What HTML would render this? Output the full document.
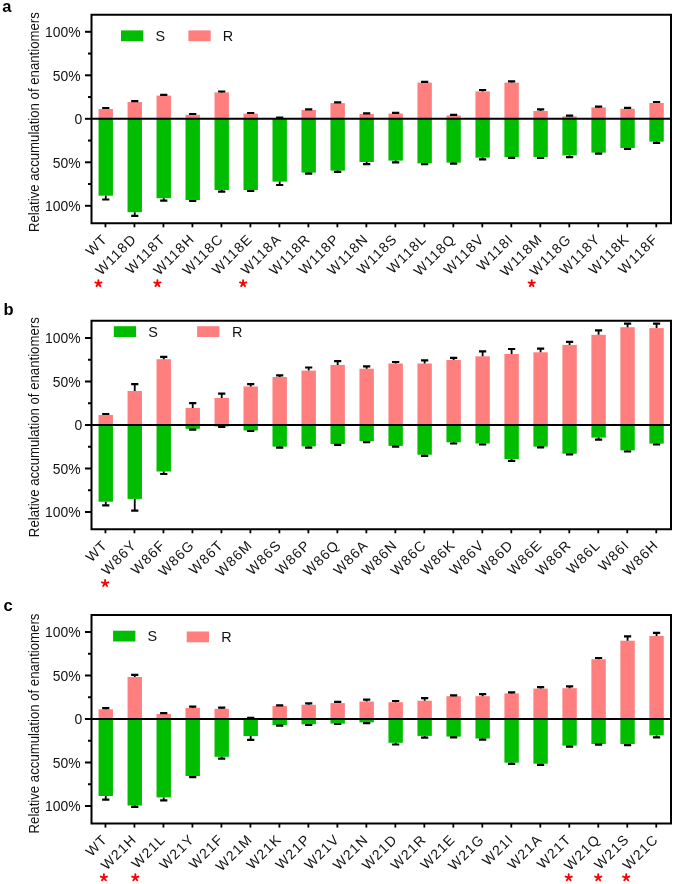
<!DOCTYPE html>
<html><head><meta charset="utf-8"><style>
html,body{margin:0;padding:0;background:#fff;}
svg{display:block;will-change:transform;font-family:"Liberation Sans", sans-serif;}
</style></head><body>
<svg width="675" height="884" viewBox="0 0 675 884">
<rect width="675" height="884" fill="#fff"/>
<text x="2.2" y="12" font-size="16.5" font-weight="bold">a</text>
<rect x="98.55" y="109" width="14.4" height="9.8" fill="#ff7f7f"/>
<rect x="98.55" y="118.8" width="14.4" height="76.9" fill="#00bd00"/>
<rect x="127.54" y="102" width="14.4" height="16.8" fill="#ff7f7f"/>
<rect x="127.54" y="118.8" width="14.4" height="93.4" fill="#00bd00"/>
<rect x="156.53" y="95.6" width="14.4" height="23.2" fill="#ff7f7f"/>
<rect x="156.53" y="118.8" width="14.4" height="79.4" fill="#00bd00"/>
<rect x="185.52" y="114.8" width="14.4" height="4" fill="#ff7f7f"/>
<rect x="185.52" y="118.8" width="14.4" height="81.2" fill="#00bd00"/>
<rect x="214.51" y="92.4" width="14.4" height="26.4" fill="#ff7f7f"/>
<rect x="214.51" y="118.8" width="14.4" height="71.2" fill="#00bd00"/>
<rect x="243.5" y="113.6" width="14.4" height="5.2" fill="#ff7f7f"/>
<rect x="243.5" y="118.8" width="14.4" height="71.2" fill="#00bd00"/>
<rect x="272.49" y="118" width="14.4" height="0.8" fill="#ff7f7f"/>
<rect x="272.49" y="118.8" width="14.4" height="62.8" fill="#00bd00"/>
<rect x="301.48" y="110" width="14.4" height="8.8" fill="#ff7f7f"/>
<rect x="301.48" y="118.8" width="14.4" height="53.8" fill="#00bd00"/>
<rect x="330.47" y="103.1" width="14.4" height="15.7" fill="#ff7f7f"/>
<rect x="330.47" y="118.8" width="14.4" height="51.8" fill="#00bd00"/>
<rect x="359.46" y="114" width="14.4" height="4.8" fill="#ff7f7f"/>
<rect x="359.46" y="118.8" width="14.4" height="43.2" fill="#00bd00"/>
<rect x="388.45" y="113.6" width="14.4" height="5.2" fill="#ff7f7f"/>
<rect x="388.45" y="118.8" width="14.4" height="41.8" fill="#00bd00"/>
<rect x="417.44" y="82.6" width="14.4" height="36.2" fill="#ff7f7f"/>
<rect x="417.44" y="118.8" width="14.4" height="44.6" fill="#00bd00"/>
<rect x="446.43" y="115.5" width="14.4" height="3.3" fill="#ff7f7f"/>
<rect x="446.43" y="118.8" width="14.4" height="43.8" fill="#00bd00"/>
<rect x="475.42" y="91.4" width="14.4" height="27.4" fill="#ff7f7f"/>
<rect x="475.42" y="118.8" width="14.4" height="38.8" fill="#00bd00"/>
<rect x="504.41" y="82.6" width="14.4" height="36.2" fill="#ff7f7f"/>
<rect x="504.41" y="118.8" width="14.4" height="38.2" fill="#00bd00"/>
<rect x="533.4" y="111" width="14.4" height="7.8" fill="#ff7f7f"/>
<rect x="533.4" y="118.8" width="14.4" height="38.2" fill="#00bd00"/>
<rect x="562.39" y="116.4" width="14.4" height="2.4" fill="#ff7f7f"/>
<rect x="562.39" y="118.8" width="14.4" height="36.6" fill="#00bd00"/>
<rect x="591.38" y="107.4" width="14.4" height="11.4" fill="#ff7f7f"/>
<rect x="591.38" y="118.8" width="14.4" height="33.8" fill="#00bd00"/>
<rect x="620.37" y="108.8" width="14.4" height="10" fill="#ff7f7f"/>
<rect x="620.37" y="118.8" width="14.4" height="29.2" fill="#00bd00"/>
<rect x="649.36" y="103" width="14.4" height="15.8" fill="#ff7f7f"/>
<rect x="649.36" y="118.8" width="14.4" height="22.8" fill="#00bd00"/>
<path d="M105.75 109V108M105.75 195.7V199.5" stroke="#000" fill="none" stroke-width="1.8" />
<path d="M102.15 108H109.35M102.15 199.5H109.35" stroke="#000" stroke-width="2.2" />
<path d="M134.74 102V101.2M134.74 212.2V215.8" stroke="#000" fill="none" stroke-width="1.8" />
<path d="M131.14 101.2H138.34M131.14 215.8H138.34" stroke="#000" stroke-width="2.2" />
<path d="M163.73 95.6V94.8M163.73 198.2V200.6" stroke="#000" fill="none" stroke-width="1.8" />
<path d="M160.13 94.8H167.33M160.13 200.6H167.33" stroke="#000" stroke-width="2.2" />
<path d="M192.72 114.8V114M192.72 200V201" stroke="#000" fill="none" stroke-width="1.8" />
<path d="M189.12 114H196.32M189.12 201H196.32" stroke="#000" stroke-width="2.2" />
<path d="M221.71 92.4V91.5M221.71 190V191.6" stroke="#000" fill="none" stroke-width="1.8" />
<path d="M218.11 91.5H225.31M218.11 191.6H225.31" stroke="#000" stroke-width="2.2" />
<path d="M250.7 113.6V113M250.7 190V191" stroke="#000" fill="none" stroke-width="1.8" />
<path d="M247.1 113H254.3M247.1 191H254.3" stroke="#000" stroke-width="2.2" />
<path d="M279.69 118V117.6M279.69 181.6V185" stroke="#000" fill="none" stroke-width="1.8" />
<path d="M276.09 117.6H283.29M276.09 185H283.29" stroke="#000" stroke-width="2.2" />
<path d="M308.68 110V109.4M308.68 172.6V173.6" stroke="#000" fill="none" stroke-width="1.8" />
<path d="M305.08 109.4H312.28M305.08 173.6H312.28" stroke="#000" stroke-width="2.2" />
<path d="M337.67 103.1V102.4M337.67 170.6V171.8" stroke="#000" fill="none" stroke-width="1.8" />
<path d="M334.07 102.4H341.27M334.07 171.8H341.27" stroke="#000" stroke-width="2.2" />
<path d="M366.66 114V113.4M366.66 162V164.2" stroke="#000" fill="none" stroke-width="1.8" />
<path d="M363.06 113.4H370.26M363.06 164.2H370.26" stroke="#000" stroke-width="2.2" />
<path d="M395.65 113.6V112.8M395.65 160.6V162.4" stroke="#000" fill="none" stroke-width="1.8" />
<path d="M392.05 112.8H399.25M392.05 162.4H399.25" stroke="#000" stroke-width="2.2" />
<path d="M424.64 82.6V81.8M424.64 163.4V164.2" stroke="#000" fill="none" stroke-width="1.8" />
<path d="M421.04 81.8H428.24M421.04 164.2H428.24" stroke="#000" stroke-width="2.2" />
<path d="M453.63 115.5V114.8M453.63 162.6V163.6" stroke="#000" fill="none" stroke-width="1.8" />
<path d="M450.03 114.8H457.23M450.03 163.6H457.23" stroke="#000" stroke-width="2.2" />
<path d="M482.62 91.4V90M482.62 157.6V159.4" stroke="#000" fill="none" stroke-width="1.8" />
<path d="M479.02 90H486.22M479.02 159.4H486.22" stroke="#000" stroke-width="2.2" />
<path d="M511.61 82.6V81.4M511.61 157V157.8" stroke="#000" fill="none" stroke-width="1.8" />
<path d="M508.01 81.4H515.21M508.01 157.8H515.21" stroke="#000" stroke-width="2.2" />
<path d="M540.6 111V109.4M540.6 157V158" stroke="#000" fill="none" stroke-width="1.8" />
<path d="M537 109.4H544.2M537 158H544.2" stroke="#000" stroke-width="2.2" />
<path d="M569.59 116.4V115.7M569.59 155.4V157.2" stroke="#000" fill="none" stroke-width="1.8" />
<path d="M565.99 115.7H573.19M565.99 157.2H573.19" stroke="#000" stroke-width="2.2" />
<path d="M598.58 107.4V106.6M598.58 152.6V153.6" stroke="#000" fill="none" stroke-width="1.8" />
<path d="M594.98 106.6H602.18M594.98 153.6H602.18" stroke="#000" stroke-width="2.2" />
<path d="M627.57 108.8V107.8M627.57 148V149" stroke="#000" fill="none" stroke-width="1.8" />
<path d="M623.97 107.8H631.17M623.97 149H631.17" stroke="#000" stroke-width="2.2" />
<path d="M656.56 103V102M656.56 141.6V142.9" stroke="#000" fill="none" stroke-width="1.8" />
<path d="M652.96 102H660.16M652.96 142.9H660.16" stroke="#000" stroke-width="2.2" />
<path d="M91.5 118.8H671" stroke="#000" stroke-width="2"/>
<path d="M91.5 14.8H671V223.3H91.5Z" stroke="#000" stroke-width="2" fill="none"/>
<path d="M85 31.8H91.5" stroke="#000" stroke-width="2"/>
<path d="M88 53.55H91.5" stroke="#000" stroke-width="2"/>
<path d="M85 75.3H91.5" stroke="#000" stroke-width="2"/>
<path d="M88 97.05H91.5" stroke="#000" stroke-width="2"/>
<path d="M85 118.8H91.5" stroke="#000" stroke-width="2"/>
<path d="M88 140.55H91.5" stroke="#000" stroke-width="2"/>
<path d="M85 162.3H91.5" stroke="#000" stroke-width="2"/>
<path d="M88 184.05H91.5" stroke="#000" stroke-width="2"/>
<path d="M85 205.8H91.5" stroke="#000" stroke-width="2"/>
<text x="80.5" y="37.2" font-size="13.9" text-anchor="end" fill="#111">100%</text>
<text x="80.5" y="80.7" font-size="13.9" text-anchor="end" fill="#111">50%</text>
<text x="82.3" y="124.2" font-size="13.9" text-anchor="end" fill="#111">0</text>
<text x="80.5" y="167.7" font-size="13.9" text-anchor="end" fill="#111">50%</text>
<text x="80.5" y="211.2" font-size="13.9" text-anchor="end" fill="#111">100%</text>
<path d="M105.45 223.3V227.3" stroke="#000" stroke-width="1.8"/>
<path d="M134.44 223.3V227.3" stroke="#000" stroke-width="1.8"/>
<path d="M163.43 223.3V227.3" stroke="#000" stroke-width="1.8"/>
<path d="M192.42 223.3V227.3" stroke="#000" stroke-width="1.8"/>
<path d="M221.41 223.3V227.3" stroke="#000" stroke-width="1.8"/>
<path d="M250.4 223.3V227.3" stroke="#000" stroke-width="1.8"/>
<path d="M279.39 223.3V227.3" stroke="#000" stroke-width="1.8"/>
<path d="M308.38 223.3V227.3" stroke="#000" stroke-width="1.8"/>
<path d="M337.37 223.3V227.3" stroke="#000" stroke-width="1.8"/>
<path d="M366.36 223.3V227.3" stroke="#000" stroke-width="1.8"/>
<path d="M395.35 223.3V227.3" stroke="#000" stroke-width="1.8"/>
<path d="M424.34 223.3V227.3" stroke="#000" stroke-width="1.8"/>
<path d="M453.33 223.3V227.3" stroke="#000" stroke-width="1.8"/>
<path d="M482.32 223.3V227.3" stroke="#000" stroke-width="1.8"/>
<path d="M511.31 223.3V227.3" stroke="#000" stroke-width="1.8"/>
<path d="M540.3 223.3V227.3" stroke="#000" stroke-width="1.8"/>
<path d="M569.29 223.3V227.3" stroke="#000" stroke-width="1.8"/>
<path d="M598.28 223.3V227.3" stroke="#000" stroke-width="1.8"/>
<path d="M627.27 223.3V227.3" stroke="#000" stroke-width="1.8"/>
<path d="M656.26 223.3V227.3" stroke="#000" stroke-width="1.8"/>
<text transform="translate(108.35,239.9) rotate(-45)" font-size="14" letter-spacing="1.1" text-anchor="end" fill="#111">WT</text>
<text transform="translate(137.34,239.9) rotate(-45)" font-size="14" letter-spacing="1.1" text-anchor="end" fill="#111">W118D</text>
<text transform="translate(166.33,239.9) rotate(-45)" font-size="14" letter-spacing="1.1" text-anchor="end" fill="#111">W118T</text>
<text transform="translate(195.32,239.9) rotate(-45)" font-size="14" letter-spacing="1.1" text-anchor="end" fill="#111">W118H</text>
<text transform="translate(224.31,239.9) rotate(-45)" font-size="14" letter-spacing="1.1" text-anchor="end" fill="#111">W118C</text>
<text transform="translate(253.3,239.9) rotate(-45)" font-size="14" letter-spacing="1.1" text-anchor="end" fill="#111">W118E</text>
<text transform="translate(282.29,239.9) rotate(-45)" font-size="14" letter-spacing="1.1" text-anchor="end" fill="#111">W118A</text>
<text transform="translate(311.28,239.9) rotate(-45)" font-size="14" letter-spacing="1.1" text-anchor="end" fill="#111">W118R</text>
<text transform="translate(340.27,239.9) rotate(-45)" font-size="14" letter-spacing="1.1" text-anchor="end" fill="#111">W118P</text>
<text transform="translate(369.26,239.9) rotate(-45)" font-size="14" letter-spacing="1.1" text-anchor="end" fill="#111">W118N</text>
<text transform="translate(398.25,239.9) rotate(-45)" font-size="14" letter-spacing="1.1" text-anchor="end" fill="#111">W118S</text>
<text transform="translate(427.24,239.9) rotate(-45)" font-size="14" letter-spacing="1.1" text-anchor="end" fill="#111">W118L</text>
<text transform="translate(456.23,239.9) rotate(-45)" font-size="14" letter-spacing="1.1" text-anchor="end" fill="#111">W118Q</text>
<text transform="translate(485.22,239.9) rotate(-45)" font-size="14" letter-spacing="1.1" text-anchor="end" fill="#111">W118V</text>
<text transform="translate(514.21,239.9) rotate(-45)" font-size="14" letter-spacing="1.1" text-anchor="end" fill="#111">W118I</text>
<text transform="translate(543.2,239.9) rotate(-45)" font-size="14" letter-spacing="1.1" text-anchor="end" fill="#111">W118M</text>
<text transform="translate(572.19,239.9) rotate(-45)" font-size="14" letter-spacing="1.1" text-anchor="end" fill="#111">W118G</text>
<text transform="translate(601.18,239.9) rotate(-45)" font-size="14" letter-spacing="1.1" text-anchor="end" fill="#111">W118Y</text>
<text transform="translate(630.17,239.9) rotate(-45)" font-size="14" letter-spacing="1.1" text-anchor="end" fill="#111">W118K</text>
<text transform="translate(659.16,239.9) rotate(-45)" font-size="14" letter-spacing="1.1" text-anchor="end" fill="#111">W118F</text>
<path d="M98.4 283.4L98.4 280.1M98.4 283.4L101.54 282.38M98.4 283.4L100.34 286.07M98.4 283.4L96.46 286.07M98.4 283.4L95.26 282.38" stroke="#ff0000" stroke-width="1.9" stroke-linecap="round" fill="none"/>
<path d="M157.4 283.4L157.4 280.1M157.4 283.4L160.54 282.38M157.4 283.4L159.34 286.07M157.4 283.4L155.46 286.07M157.4 283.4L154.26 282.38" stroke="#ff0000" stroke-width="1.9" stroke-linecap="round" fill="none"/>
<path d="M243.1 283.4L243.1 280.1M243.1 283.4L246.24 282.38M243.1 283.4L245.04 286.07M243.1 283.4L241.16 286.07M243.1 283.4L239.96 282.38" stroke="#ff0000" stroke-width="1.9" stroke-linecap="round" fill="none"/>
<path d="M531.7 283.4L531.7 280.1M531.7 283.4L534.84 282.38M531.7 283.4L533.64 286.07M531.7 283.4L529.76 286.07M531.7 283.4L528.56 282.38" stroke="#ff0000" stroke-width="1.9" stroke-linecap="round" fill="none"/>
<rect x="121" y="30.4" width="22.3" height="10.8" fill="#00bd00"/>
<rect x="188.4" y="30.4" width="22.3" height="10.8" fill="#ff7f7f"/>
<text x="155.4" y="41.4" font-size="14.4" fill="#111">S</text>
<text x="222.8" y="41.4" font-size="14.4" fill="#111">R</text>
<text transform="translate(38.8,122.1) rotate(-90) scale(0.852,1)" font-size="15.5" text-anchor="middle" fill="#111">Relative accumulation of enantiomers</text>
<text x="3.4" y="314.5" font-size="16.5" font-weight="bold">b</text>
<rect x="98.55" y="415" width="14.4" height="10" fill="#ff7f7f"/>
<rect x="98.55" y="425" width="14.4" height="76.7" fill="#00bd00"/>
<rect x="127.54" y="391" width="14.4" height="34" fill="#ff7f7f"/>
<rect x="127.54" y="425" width="14.4" height="73.9" fill="#00bd00"/>
<rect x="156.53" y="359.2" width="14.4" height="65.8" fill="#ff7f7f"/>
<rect x="156.53" y="425" width="14.4" height="46.5" fill="#00bd00"/>
<rect x="185.52" y="407.9" width="14.4" height="17.1" fill="#ff7f7f"/>
<rect x="185.52" y="425" width="14.4" height="3.8" fill="#00bd00"/>
<rect x="214.51" y="397.9" width="14.4" height="27.1" fill="#ff7f7f"/>
<rect x="214.51" y="425" width="14.4" height="1.4" fill="#00bd00"/>
<rect x="243.5" y="386.5" width="14.4" height="38.5" fill="#ff7f7f"/>
<rect x="243.5" y="425" width="14.4" height="5.5" fill="#00bd00"/>
<rect x="272.49" y="377" width="14.4" height="48" fill="#ff7f7f"/>
<rect x="272.49" y="425" width="14.4" height="21.6" fill="#00bd00"/>
<rect x="301.48" y="370.6" width="14.4" height="54.4" fill="#ff7f7f"/>
<rect x="301.48" y="425" width="14.4" height="21.4" fill="#00bd00"/>
<rect x="330.47" y="364.9" width="14.4" height="60.1" fill="#ff7f7f"/>
<rect x="330.47" y="425" width="14.4" height="19" fill="#00bd00"/>
<rect x="359.46" y="368.7" width="14.4" height="56.3" fill="#ff7f7f"/>
<rect x="359.46" y="425" width="14.4" height="16.1" fill="#00bd00"/>
<rect x="388.45" y="363.5" width="14.4" height="61.5" fill="#ff7f7f"/>
<rect x="388.45" y="425" width="14.4" height="20.9" fill="#00bd00"/>
<rect x="417.44" y="363.5" width="14.4" height="61.5" fill="#ff7f7f"/>
<rect x="417.44" y="425" width="14.4" height="29.7" fill="#00bd00"/>
<rect x="446.43" y="359.9" width="14.4" height="65.1" fill="#ff7f7f"/>
<rect x="446.43" y="425" width="14.4" height="17.3" fill="#00bd00"/>
<rect x="475.42" y="356.3" width="14.4" height="68.7" fill="#ff7f7f"/>
<rect x="475.42" y="425" width="14.4" height="18.5" fill="#00bd00"/>
<rect x="504.41" y="354" width="14.4" height="71" fill="#ff7f7f"/>
<rect x="504.41" y="425" width="14.4" height="34" fill="#00bd00"/>
<rect x="533.4" y="352.3" width="14.4" height="72.7" fill="#ff7f7f"/>
<rect x="533.4" y="425" width="14.4" height="21.6" fill="#00bd00"/>
<rect x="562.39" y="344.9" width="14.4" height="80.1" fill="#ff7f7f"/>
<rect x="562.39" y="425" width="14.4" height="28.7" fill="#00bd00"/>
<rect x="591.38" y="334.8" width="14.4" height="90.2" fill="#ff7f7f"/>
<rect x="591.38" y="425" width="14.4" height="12.6" fill="#00bd00"/>
<rect x="620.37" y="327.2" width="14.4" height="97.8" fill="#ff7f7f"/>
<rect x="620.37" y="425" width="14.4" height="25.4" fill="#00bd00"/>
<rect x="649.36" y="328.1" width="14.4" height="96.9" fill="#ff7f7f"/>
<rect x="649.36" y="425" width="14.4" height="18.6" fill="#00bd00"/>
<path d="M105.75 415V414M105.75 501.7V505.3" stroke="#000" fill="none" stroke-width="1.8" />
<path d="M102.15 414H109.35M102.15 505.3H109.35" stroke="#000" stroke-width="2.2" />
<path d="M134.74 391V384.1M134.74 498.9V510.7" stroke="#000" fill="none" stroke-width="1.8" />
<path d="M131.14 384.1H138.34M131.14 510.7H138.34" stroke="#000" stroke-width="2.2" />
<path d="M163.73 359.2V356.8M163.73 471.5V474" stroke="#000" fill="none" stroke-width="1.8" />
<path d="M160.13 356.8H167.33M160.13 474H167.33" stroke="#000" stroke-width="2.2" />
<path d="M192.72 407.9V403.1M192.72 428.8V429.7" stroke="#000" fill="none" stroke-width="1.8" />
<path d="M189.12 403.1H196.32M189.12 429.7H196.32" stroke="#000" stroke-width="2.2" />
<path d="M221.71 397.9V393.6M221.71 426.4V426.9" stroke="#000" fill="none" stroke-width="1.8" />
<path d="M218.11 393.6H225.31M218.11 426.9H225.31" stroke="#000" stroke-width="2.2" />
<path d="M250.7 386.5V384.1M250.7 430.5V431" stroke="#000" fill="none" stroke-width="1.8" />
<path d="M247.1 384.1H254.3M247.1 431H254.3" stroke="#000" stroke-width="2.2" />
<path d="M279.69 377V375.3M279.69 446.6V447.6" stroke="#000" fill="none" stroke-width="1.8" />
<path d="M276.09 375.3H283.29M276.09 447.6H283.29" stroke="#000" stroke-width="2.2" />
<path d="M308.68 370.6V367.5M308.68 446.4V447.6" stroke="#000" fill="none" stroke-width="1.8" />
<path d="M305.08 367.5H312.28M305.08 447.6H312.28" stroke="#000" stroke-width="2.2" />
<path d="M337.67 364.9V361.1M337.67 444V444.9" stroke="#000" fill="none" stroke-width="1.8" />
<path d="M334.07 361.1H341.27M334.07 444.9H341.27" stroke="#000" stroke-width="2.2" />
<path d="M366.66 368.7V366.3M366.66 441.1V442.1" stroke="#000" fill="none" stroke-width="1.8" />
<path d="M363.06 366.3H370.26M363.06 442.1H370.26" stroke="#000" stroke-width="2.2" />
<path d="M395.65 363.5V362M395.65 445.9V446.6" stroke="#000" fill="none" stroke-width="1.8" />
<path d="M392.05 362H399.25M392.05 446.6H399.25" stroke="#000" stroke-width="2.2" />
<path d="M424.64 363.5V360.4M424.64 454.7V455.9" stroke="#000" fill="none" stroke-width="1.8" />
<path d="M421.04 360.4H428.24M421.04 455.9H428.24" stroke="#000" stroke-width="2.2" />
<path d="M453.63 359.9V357.8M453.63 442.3V443.5" stroke="#000" fill="none" stroke-width="1.8" />
<path d="M450.03 357.8H457.23M450.03 443.5H457.23" stroke="#000" stroke-width="2.2" />
<path d="M482.62 356.3V351.4M482.62 443.5V444.5" stroke="#000" fill="none" stroke-width="1.8" />
<path d="M479.02 351.4H486.22M479.02 444.5H486.22" stroke="#000" stroke-width="2.2" />
<path d="M511.61 354V349M511.61 459V460.9" stroke="#000" fill="none" stroke-width="1.8" />
<path d="M508.01 349H515.21M508.01 460.9H515.21" stroke="#000" stroke-width="2.2" />
<path d="M540.6 352.3V348.7M540.6 446.6V447.3" stroke="#000" fill="none" stroke-width="1.8" />
<path d="M537 348.7H544.2M537 447.3H544.2" stroke="#000" stroke-width="2.2" />
<path d="M569.59 344.9V341.8M569.59 453.7V454.4" stroke="#000" fill="none" stroke-width="1.8" />
<path d="M565.99 341.8H573.19M565.99 454.4H573.19" stroke="#000" stroke-width="2.2" />
<path d="M598.58 334.8V330.3M598.58 437.6V439.6" stroke="#000" fill="none" stroke-width="1.8" />
<path d="M594.98 330.3H602.18M594.98 439.6H602.18" stroke="#000" stroke-width="2.2" />
<path d="M627.57 327.2V323.7M627.57 450.4V451.5" stroke="#000" fill="none" stroke-width="1.8" />
<path d="M623.97 323.7H631.17M623.97 451.5H631.17" stroke="#000" stroke-width="2.2" />
<path d="M656.56 328.1V323.6M656.56 443.6V444.5" stroke="#000" fill="none" stroke-width="1.8" />
<path d="M652.96 323.6H660.16M652.96 444.5H660.16" stroke="#000" stroke-width="2.2" />
<path d="M91.5 425H671" stroke="#000" stroke-width="2"/>
<path d="M91.5 320.7H671V529.3H91.5Z" stroke="#000" stroke-width="2" fill="none"/>
<path d="M85 338H91.5" stroke="#000" stroke-width="2"/>
<path d="M88 359.75H91.5" stroke="#000" stroke-width="2"/>
<path d="M85 381.5H91.5" stroke="#000" stroke-width="2"/>
<path d="M88 403.25H91.5" stroke="#000" stroke-width="2"/>
<path d="M85 425H91.5" stroke="#000" stroke-width="2"/>
<path d="M88 446.75H91.5" stroke="#000" stroke-width="2"/>
<path d="M85 468.5H91.5" stroke="#000" stroke-width="2"/>
<path d="M88 490.25H91.5" stroke="#000" stroke-width="2"/>
<path d="M85 512H91.5" stroke="#000" stroke-width="2"/>
<text x="80.5" y="343.4" font-size="13.9" text-anchor="end" fill="#111">100%</text>
<text x="80.5" y="386.9" font-size="13.9" text-anchor="end" fill="#111">50%</text>
<text x="82.3" y="430.4" font-size="13.9" text-anchor="end" fill="#111">0</text>
<text x="80.5" y="473.9" font-size="13.9" text-anchor="end" fill="#111">50%</text>
<text x="80.5" y="517.4" font-size="13.9" text-anchor="end" fill="#111">100%</text>
<path d="M105.45 529.3V533.3" stroke="#000" stroke-width="1.8"/>
<path d="M134.44 529.3V533.3" stroke="#000" stroke-width="1.8"/>
<path d="M163.43 529.3V533.3" stroke="#000" stroke-width="1.8"/>
<path d="M192.42 529.3V533.3" stroke="#000" stroke-width="1.8"/>
<path d="M221.41 529.3V533.3" stroke="#000" stroke-width="1.8"/>
<path d="M250.4 529.3V533.3" stroke="#000" stroke-width="1.8"/>
<path d="M279.39 529.3V533.3" stroke="#000" stroke-width="1.8"/>
<path d="M308.38 529.3V533.3" stroke="#000" stroke-width="1.8"/>
<path d="M337.37 529.3V533.3" stroke="#000" stroke-width="1.8"/>
<path d="M366.36 529.3V533.3" stroke="#000" stroke-width="1.8"/>
<path d="M395.35 529.3V533.3" stroke="#000" stroke-width="1.8"/>
<path d="M424.34 529.3V533.3" stroke="#000" stroke-width="1.8"/>
<path d="M453.33 529.3V533.3" stroke="#000" stroke-width="1.8"/>
<path d="M482.32 529.3V533.3" stroke="#000" stroke-width="1.8"/>
<path d="M511.31 529.3V533.3" stroke="#000" stroke-width="1.8"/>
<path d="M540.3 529.3V533.3" stroke="#000" stroke-width="1.8"/>
<path d="M569.29 529.3V533.3" stroke="#000" stroke-width="1.8"/>
<path d="M598.28 529.3V533.3" stroke="#000" stroke-width="1.8"/>
<path d="M627.27 529.3V533.3" stroke="#000" stroke-width="1.8"/>
<path d="M656.26 529.3V533.3" stroke="#000" stroke-width="1.8"/>
<text transform="translate(108.35,545.9) rotate(-45)" font-size="14" letter-spacing="1.1" text-anchor="end" fill="#111">WT</text>
<text transform="translate(137.34,545.9) rotate(-45)" font-size="14" letter-spacing="1.1" text-anchor="end" fill="#111">W86Y</text>
<text transform="translate(166.33,545.9) rotate(-45)" font-size="14" letter-spacing="1.1" text-anchor="end" fill="#111">W86F</text>
<text transform="translate(195.32,545.9) rotate(-45)" font-size="14" letter-spacing="1.1" text-anchor="end" fill="#111">W86G</text>
<text transform="translate(224.31,545.9) rotate(-45)" font-size="14" letter-spacing="1.1" text-anchor="end" fill="#111">W86T</text>
<text transform="translate(253.3,545.9) rotate(-45)" font-size="14" letter-spacing="1.1" text-anchor="end" fill="#111">W86M</text>
<text transform="translate(282.29,545.9) rotate(-45)" font-size="14" letter-spacing="1.1" text-anchor="end" fill="#111">W86S</text>
<text transform="translate(311.28,545.9) rotate(-45)" font-size="14" letter-spacing="1.1" text-anchor="end" fill="#111">W86P</text>
<text transform="translate(340.27,545.9) rotate(-45)" font-size="14" letter-spacing="1.1" text-anchor="end" fill="#111">W86Q</text>
<text transform="translate(369.26,545.9) rotate(-45)" font-size="14" letter-spacing="1.1" text-anchor="end" fill="#111">W86A</text>
<text transform="translate(398.25,545.9) rotate(-45)" font-size="14" letter-spacing="1.1" text-anchor="end" fill="#111">W86N</text>
<text transform="translate(427.24,545.9) rotate(-45)" font-size="14" letter-spacing="1.1" text-anchor="end" fill="#111">W86C</text>
<text transform="translate(456.23,545.9) rotate(-45)" font-size="14" letter-spacing="1.1" text-anchor="end" fill="#111">W86K</text>
<text transform="translate(485.22,545.9) rotate(-45)" font-size="14" letter-spacing="1.1" text-anchor="end" fill="#111">W86V</text>
<text transform="translate(514.21,545.9) rotate(-45)" font-size="14" letter-spacing="1.1" text-anchor="end" fill="#111">W86D</text>
<text transform="translate(543.2,545.9) rotate(-45)" font-size="14" letter-spacing="1.1" text-anchor="end" fill="#111">W86E</text>
<text transform="translate(572.19,545.9) rotate(-45)" font-size="14" letter-spacing="1.1" text-anchor="end" fill="#111">W86R</text>
<text transform="translate(601.18,545.9) rotate(-45)" font-size="14" letter-spacing="1.1" text-anchor="end" fill="#111">W86L</text>
<text transform="translate(630.17,545.9) rotate(-45)" font-size="14" letter-spacing="1.1" text-anchor="end" fill="#111">W86I</text>
<text transform="translate(659.16,545.9) rotate(-45)" font-size="14" letter-spacing="1.1" text-anchor="end" fill="#111">W86H</text>
<path d="M105.1 583.3L105.1 580M105.1 583.3L108.24 582.28M105.1 583.3L107.04 585.97M105.1 583.3L103.16 585.97M105.1 583.3L101.96 582.28" stroke="#ff0000" stroke-width="1.9" stroke-linecap="round" fill="none"/>
<rect x="113.8" y="326.2" width="22.3" height="10.8" fill="#00bd00"/>
<rect x="197.1" y="326.2" width="22.3" height="10.8" fill="#ff7f7f"/>
<text x="148.3" y="337.3" font-size="14.4" fill="#111">S</text>
<text x="232" y="337.3" font-size="14.4" fill="#111">R</text>
<text transform="translate(38.8,427.2) rotate(-90) scale(0.852,1)" font-size="15.5" text-anchor="middle" fill="#111">Relative accumulation of enantiomers</text>
<text x="3.5" y="610.8" font-size="16.5" font-weight="bold">c</text>
<rect x="98.55" y="709.3" width="14.4" height="9.7" fill="#ff7f7f"/>
<rect x="98.55" y="719" width="14.4" height="77" fill="#00bd00"/>
<rect x="127.54" y="677" width="14.4" height="42" fill="#ff7f7f"/>
<rect x="127.54" y="719" width="14.4" height="86.5" fill="#00bd00"/>
<rect x="156.53" y="714" width="14.4" height="5" fill="#ff7f7f"/>
<rect x="156.53" y="719" width="14.4" height="78.4" fill="#00bd00"/>
<rect x="185.52" y="707.9" width="14.4" height="11.1" fill="#ff7f7f"/>
<rect x="185.52" y="719" width="14.4" height="57" fill="#00bd00"/>
<rect x="214.51" y="708.8" width="14.4" height="10.2" fill="#ff7f7f"/>
<rect x="214.51" y="719" width="14.4" height="37.8" fill="#00bd00"/>
<rect x="243.5" y="718.3" width="14.4" height="0.7" fill="#ff7f7f"/>
<rect x="243.5" y="719" width="14.4" height="17.1" fill="#00bd00"/>
<rect x="272.49" y="706" width="14.4" height="13" fill="#ff7f7f"/>
<rect x="272.49" y="719" width="14.4" height="6" fill="#00bd00"/>
<rect x="301.48" y="704.8" width="14.4" height="14.2" fill="#ff7f7f"/>
<rect x="301.48" y="719" width="14.4" height="5.3" fill="#00bd00"/>
<rect x="330.47" y="703.1" width="14.4" height="15.9" fill="#ff7f7f"/>
<rect x="330.47" y="719" width="14.4" height="4.6" fill="#00bd00"/>
<rect x="359.46" y="701.5" width="14.4" height="17.5" fill="#ff7f7f"/>
<rect x="359.46" y="719" width="14.4" height="3.4" fill="#00bd00"/>
<rect x="388.45" y="702.2" width="14.4" height="16.8" fill="#ff7f7f"/>
<rect x="388.45" y="719" width="14.4" height="23.8" fill="#00bd00"/>
<rect x="417.44" y="700.7" width="14.4" height="18.3" fill="#ff7f7f"/>
<rect x="417.44" y="719" width="14.4" height="16.9" fill="#00bd00"/>
<rect x="446.43" y="696.2" width="14.4" height="22.8" fill="#ff7f7f"/>
<rect x="446.43" y="719" width="14.4" height="17.6" fill="#00bd00"/>
<rect x="475.42" y="696.2" width="14.4" height="22.8" fill="#ff7f7f"/>
<rect x="475.42" y="719" width="14.4" height="19.5" fill="#00bd00"/>
<rect x="504.41" y="693.4" width="14.4" height="25.6" fill="#ff7f7f"/>
<rect x="504.41" y="719" width="14.4" height="43.7" fill="#00bd00"/>
<rect x="533.4" y="688.6" width="14.4" height="30.4" fill="#ff7f7f"/>
<rect x="533.4" y="719" width="14.4" height="44.7" fill="#00bd00"/>
<rect x="562.39" y="688.2" width="14.4" height="30.8" fill="#ff7f7f"/>
<rect x="562.39" y="719" width="14.4" height="26.6" fill="#00bd00"/>
<rect x="591.38" y="659.2" width="14.4" height="59.8" fill="#ff7f7f"/>
<rect x="591.38" y="719" width="14.4" height="25" fill="#00bd00"/>
<rect x="620.37" y="640.7" width="14.4" height="78.3" fill="#ff7f7f"/>
<rect x="620.37" y="719" width="14.4" height="25" fill="#00bd00"/>
<rect x="649.36" y="635.9" width="14.4" height="83.1" fill="#ff7f7f"/>
<rect x="649.36" y="719" width="14.4" height="16.4" fill="#00bd00"/>
<path d="M105.75 709.3V708.1M105.75 796V799.6" stroke="#000" fill="none" stroke-width="1.8" />
<path d="M102.15 708.1H109.35M102.15 799.6H109.35" stroke="#000" stroke-width="2.2" />
<path d="M134.74 677V674.9M134.74 805.5V806.9" stroke="#000" fill="none" stroke-width="1.8" />
<path d="M131.14 674.9H138.34M131.14 806.9H138.34" stroke="#000" stroke-width="2.2" />
<path d="M163.73 714V713.1M163.73 797.4V800.3" stroke="#000" fill="none" stroke-width="1.8" />
<path d="M160.13 713.1H167.33M160.13 800.3H167.33" stroke="#000" stroke-width="2.2" />
<path d="M192.72 707.9V706.7M192.72 776V777.1" stroke="#000" fill="none" stroke-width="1.8" />
<path d="M189.12 706.7H196.32M189.12 777.1H196.32" stroke="#000" stroke-width="2.2" />
<path d="M221.71 708.8V707.6M221.71 756.8V758.7" stroke="#000" fill="none" stroke-width="1.8" />
<path d="M218.11 707.6H225.31M218.11 758.7H225.31" stroke="#000" stroke-width="2.2" />
<path d="M250.7 718.3V717.9M250.7 736.1V739.9" stroke="#000" fill="none" stroke-width="1.8" />
<path d="M247.1 717.9H254.3M247.1 739.9H254.3" stroke="#000" stroke-width="2.2" />
<path d="M279.69 706V705.3M279.69 725V725.7" stroke="#000" fill="none" stroke-width="1.8" />
<path d="M276.09 705.3H283.29M276.09 725.7H283.29" stroke="#000" stroke-width="2.2" />
<path d="M308.68 704.8V703.4M308.68 724.3V725" stroke="#000" fill="none" stroke-width="1.8" />
<path d="M305.08 703.4H312.28M305.08 725H312.28" stroke="#000" stroke-width="2.2" />
<path d="M337.67 703.1V701.9M337.67 723.6V724" stroke="#000" fill="none" stroke-width="1.8" />
<path d="M334.07 701.9H341.27M334.07 724H341.27" stroke="#000" stroke-width="2.2" />
<path d="M366.66 701.5V699.6M366.66 722.4V723.1" stroke="#000" fill="none" stroke-width="1.8" />
<path d="M363.06 699.6H370.26M363.06 723.1H370.26" stroke="#000" stroke-width="2.2" />
<path d="M395.65 702.2V701M395.65 742.8V744.5" stroke="#000" fill="none" stroke-width="1.8" />
<path d="M392.05 701H399.25M392.05 744.5H399.25" stroke="#000" stroke-width="2.2" />
<path d="M424.64 700.7V698.1M424.64 735.9V737.6" stroke="#000" fill="none" stroke-width="1.8" />
<path d="M421.04 698.1H428.24M421.04 737.6H428.24" stroke="#000" stroke-width="2.2" />
<path d="M453.63 696.2V695.3M453.63 736.6V737.3" stroke="#000" fill="none" stroke-width="1.8" />
<path d="M450.03 695.3H457.23M450.03 737.3H457.23" stroke="#000" stroke-width="2.2" />
<path d="M482.62 696.2V694.1M482.62 738.5V739.7" stroke="#000" fill="none" stroke-width="1.8" />
<path d="M479.02 694.1H486.22M479.02 739.7H486.22" stroke="#000" stroke-width="2.2" />
<path d="M511.61 693.4V692.4M511.61 762.7V763.9" stroke="#000" fill="none" stroke-width="1.8" />
<path d="M508.01 692.4H515.21M508.01 763.9H515.21" stroke="#000" stroke-width="2.2" />
<path d="M540.6 688.6V687.2M540.6 763.7V764.9" stroke="#000" fill="none" stroke-width="1.8" />
<path d="M537 687.2H544.2M537 764.9H544.2" stroke="#000" stroke-width="2.2" />
<path d="M569.59 688.2V686.3M569.59 745.6V746.6" stroke="#000" fill="none" stroke-width="1.8" />
<path d="M565.99 686.3H573.19M565.99 746.6H573.19" stroke="#000" stroke-width="2.2" />
<path d="M598.58 659.2V658M598.58 744V744.7" stroke="#000" fill="none" stroke-width="1.8" />
<path d="M594.98 658H602.18M594.98 744.7H602.18" stroke="#000" stroke-width="2.2" />
<path d="M627.57 640.7V636.4M627.57 744V745.2" stroke="#000" fill="none" stroke-width="1.8" />
<path d="M623.97 636.4H631.17M623.97 745.2H631.17" stroke="#000" stroke-width="2.2" />
<path d="M656.56 635.9V632.8M656.56 735.4V737.3" stroke="#000" fill="none" stroke-width="1.8" />
<path d="M652.96 632.8H660.16M652.96 737.3H660.16" stroke="#000" stroke-width="2.2" />
<path d="M91.5 719H671" stroke="#000" stroke-width="2"/>
<path d="M91.5 615H671V823.6H91.5Z" stroke="#000" stroke-width="2" fill="none"/>
<path d="M85 632H91.5" stroke="#000" stroke-width="2"/>
<path d="M88 653.75H91.5" stroke="#000" stroke-width="2"/>
<path d="M85 675.5H91.5" stroke="#000" stroke-width="2"/>
<path d="M88 697.25H91.5" stroke="#000" stroke-width="2"/>
<path d="M85 719H91.5" stroke="#000" stroke-width="2"/>
<path d="M88 740.75H91.5" stroke="#000" stroke-width="2"/>
<path d="M85 762.5H91.5" stroke="#000" stroke-width="2"/>
<path d="M88 784.25H91.5" stroke="#000" stroke-width="2"/>
<path d="M85 806H91.5" stroke="#000" stroke-width="2"/>
<text x="80.5" y="637.4" font-size="13.9" text-anchor="end" fill="#111">100%</text>
<text x="80.5" y="680.9" font-size="13.9" text-anchor="end" fill="#111">50%</text>
<text x="82.3" y="724.4" font-size="13.9" text-anchor="end" fill="#111">0</text>
<text x="80.5" y="767.9" font-size="13.9" text-anchor="end" fill="#111">50%</text>
<text x="80.5" y="811.4" font-size="13.9" text-anchor="end" fill="#111">100%</text>
<path d="M105.45 823.6V827.6" stroke="#000" stroke-width="1.8"/>
<path d="M134.44 823.6V827.6" stroke="#000" stroke-width="1.8"/>
<path d="M163.43 823.6V827.6" stroke="#000" stroke-width="1.8"/>
<path d="M192.42 823.6V827.6" stroke="#000" stroke-width="1.8"/>
<path d="M221.41 823.6V827.6" stroke="#000" stroke-width="1.8"/>
<path d="M250.4 823.6V827.6" stroke="#000" stroke-width="1.8"/>
<path d="M279.39 823.6V827.6" stroke="#000" stroke-width="1.8"/>
<path d="M308.38 823.6V827.6" stroke="#000" stroke-width="1.8"/>
<path d="M337.37 823.6V827.6" stroke="#000" stroke-width="1.8"/>
<path d="M366.36 823.6V827.6" stroke="#000" stroke-width="1.8"/>
<path d="M395.35 823.6V827.6" stroke="#000" stroke-width="1.8"/>
<path d="M424.34 823.6V827.6" stroke="#000" stroke-width="1.8"/>
<path d="M453.33 823.6V827.6" stroke="#000" stroke-width="1.8"/>
<path d="M482.32 823.6V827.6" stroke="#000" stroke-width="1.8"/>
<path d="M511.31 823.6V827.6" stroke="#000" stroke-width="1.8"/>
<path d="M540.3 823.6V827.6" stroke="#000" stroke-width="1.8"/>
<path d="M569.29 823.6V827.6" stroke="#000" stroke-width="1.8"/>
<path d="M598.28 823.6V827.6" stroke="#000" stroke-width="1.8"/>
<path d="M627.27 823.6V827.6" stroke="#000" stroke-width="1.8"/>
<path d="M656.26 823.6V827.6" stroke="#000" stroke-width="1.8"/>
<text transform="translate(108.35,840.2) rotate(-45)" font-size="14" letter-spacing="1.1" text-anchor="end" fill="#111">WT</text>
<text transform="translate(137.34,840.2) rotate(-45)" font-size="14" letter-spacing="1.1" text-anchor="end" fill="#111">W21H</text>
<text transform="translate(166.33,840.2) rotate(-45)" font-size="14" letter-spacing="1.1" text-anchor="end" fill="#111">W21L</text>
<text transform="translate(195.32,840.2) rotate(-45)" font-size="14" letter-spacing="1.1" text-anchor="end" fill="#111">W21Y</text>
<text transform="translate(224.31,840.2) rotate(-45)" font-size="14" letter-spacing="1.1" text-anchor="end" fill="#111">W21F</text>
<text transform="translate(253.3,840.2) rotate(-45)" font-size="14" letter-spacing="1.1" text-anchor="end" fill="#111">W21M</text>
<text transform="translate(282.29,840.2) rotate(-45)" font-size="14" letter-spacing="1.1" text-anchor="end" fill="#111">W21K</text>
<text transform="translate(311.28,840.2) rotate(-45)" font-size="14" letter-spacing="1.1" text-anchor="end" fill="#111">W21P</text>
<text transform="translate(340.27,840.2) rotate(-45)" font-size="14" letter-spacing="1.1" text-anchor="end" fill="#111">W21V</text>
<text transform="translate(369.26,840.2) rotate(-45)" font-size="14" letter-spacing="1.1" text-anchor="end" fill="#111">W21N</text>
<text transform="translate(398.25,840.2) rotate(-45)" font-size="14" letter-spacing="1.1" text-anchor="end" fill="#111">W21D</text>
<text transform="translate(427.24,840.2) rotate(-45)" font-size="14" letter-spacing="1.1" text-anchor="end" fill="#111">W21R</text>
<text transform="translate(456.23,840.2) rotate(-45)" font-size="14" letter-spacing="1.1" text-anchor="end" fill="#111">W21E</text>
<text transform="translate(485.22,840.2) rotate(-45)" font-size="14" letter-spacing="1.1" text-anchor="end" fill="#111">W21G</text>
<text transform="translate(514.21,840.2) rotate(-45)" font-size="14" letter-spacing="1.1" text-anchor="end" fill="#111">W21I</text>
<text transform="translate(543.2,840.2) rotate(-45)" font-size="14" letter-spacing="1.1" text-anchor="end" fill="#111">W21A</text>
<text transform="translate(572.19,840.2) rotate(-45)" font-size="14" letter-spacing="1.1" text-anchor="end" fill="#111">W21T</text>
<text transform="translate(601.18,840.2) rotate(-45)" font-size="14" letter-spacing="1.1" text-anchor="end" fill="#111">W21Q</text>
<text transform="translate(630.17,840.2) rotate(-45)" font-size="14" letter-spacing="1.1" text-anchor="end" fill="#111">W21S</text>
<text transform="translate(659.16,840.2) rotate(-45)" font-size="14" letter-spacing="1.1" text-anchor="end" fill="#111">W21C</text>
<path d="M103.9 877.6L103.9 874.3M103.9 877.6L107.04 876.58M103.9 877.6L105.84 880.27M103.9 877.6L101.96 880.27M103.9 877.6L100.76 876.58" stroke="#ff0000" stroke-width="1.9" stroke-linecap="round" fill="none"/>
<path d="M135.3 877.6L135.3 874.3M135.3 877.6L138.44 876.58M135.3 877.6L137.24 880.27M135.3 877.6L133.36 880.27M135.3 877.6L132.16 876.58" stroke="#ff0000" stroke-width="1.9" stroke-linecap="round" fill="none"/>
<path d="M568.7 877.6L568.7 874.3M568.7 877.6L571.84 876.58M568.7 877.6L570.64 880.27M568.7 877.6L566.76 880.27M568.7 877.6L565.56 876.58" stroke="#ff0000" stroke-width="1.9" stroke-linecap="round" fill="none"/>
<path d="M598.2 877.6L598.2 874.3M598.2 877.6L601.34 876.58M598.2 877.6L600.14 880.27M598.2 877.6L596.26 880.27M598.2 877.6L595.06 876.58" stroke="#ff0000" stroke-width="1.9" stroke-linecap="round" fill="none"/>
<path d="M626.2 877.6L626.2 874.3M626.2 877.6L629.34 876.58M626.2 877.6L628.14 880.27M626.2 877.6L624.26 880.27M626.2 877.6L623.06 876.58" stroke="#ff0000" stroke-width="1.9" stroke-linecap="round" fill="none"/>
<rect x="113.1" y="630.7" width="22.3" height="10.8" fill="#00bd00"/>
<rect x="186.7" y="631.5" width="22.3" height="10.8" fill="#ff7f7f"/>
<text x="147.4" y="641.1" font-size="14.4" fill="#111">S</text>
<text x="221.2" y="642.1" font-size="14.4" fill="#111">R</text>
<text transform="translate(38.8,723.5) rotate(-90) scale(0.852,1)" font-size="15.5" text-anchor="middle" fill="#111">Relative accumulation of enantiomers</text>
</svg>
</body></html>
